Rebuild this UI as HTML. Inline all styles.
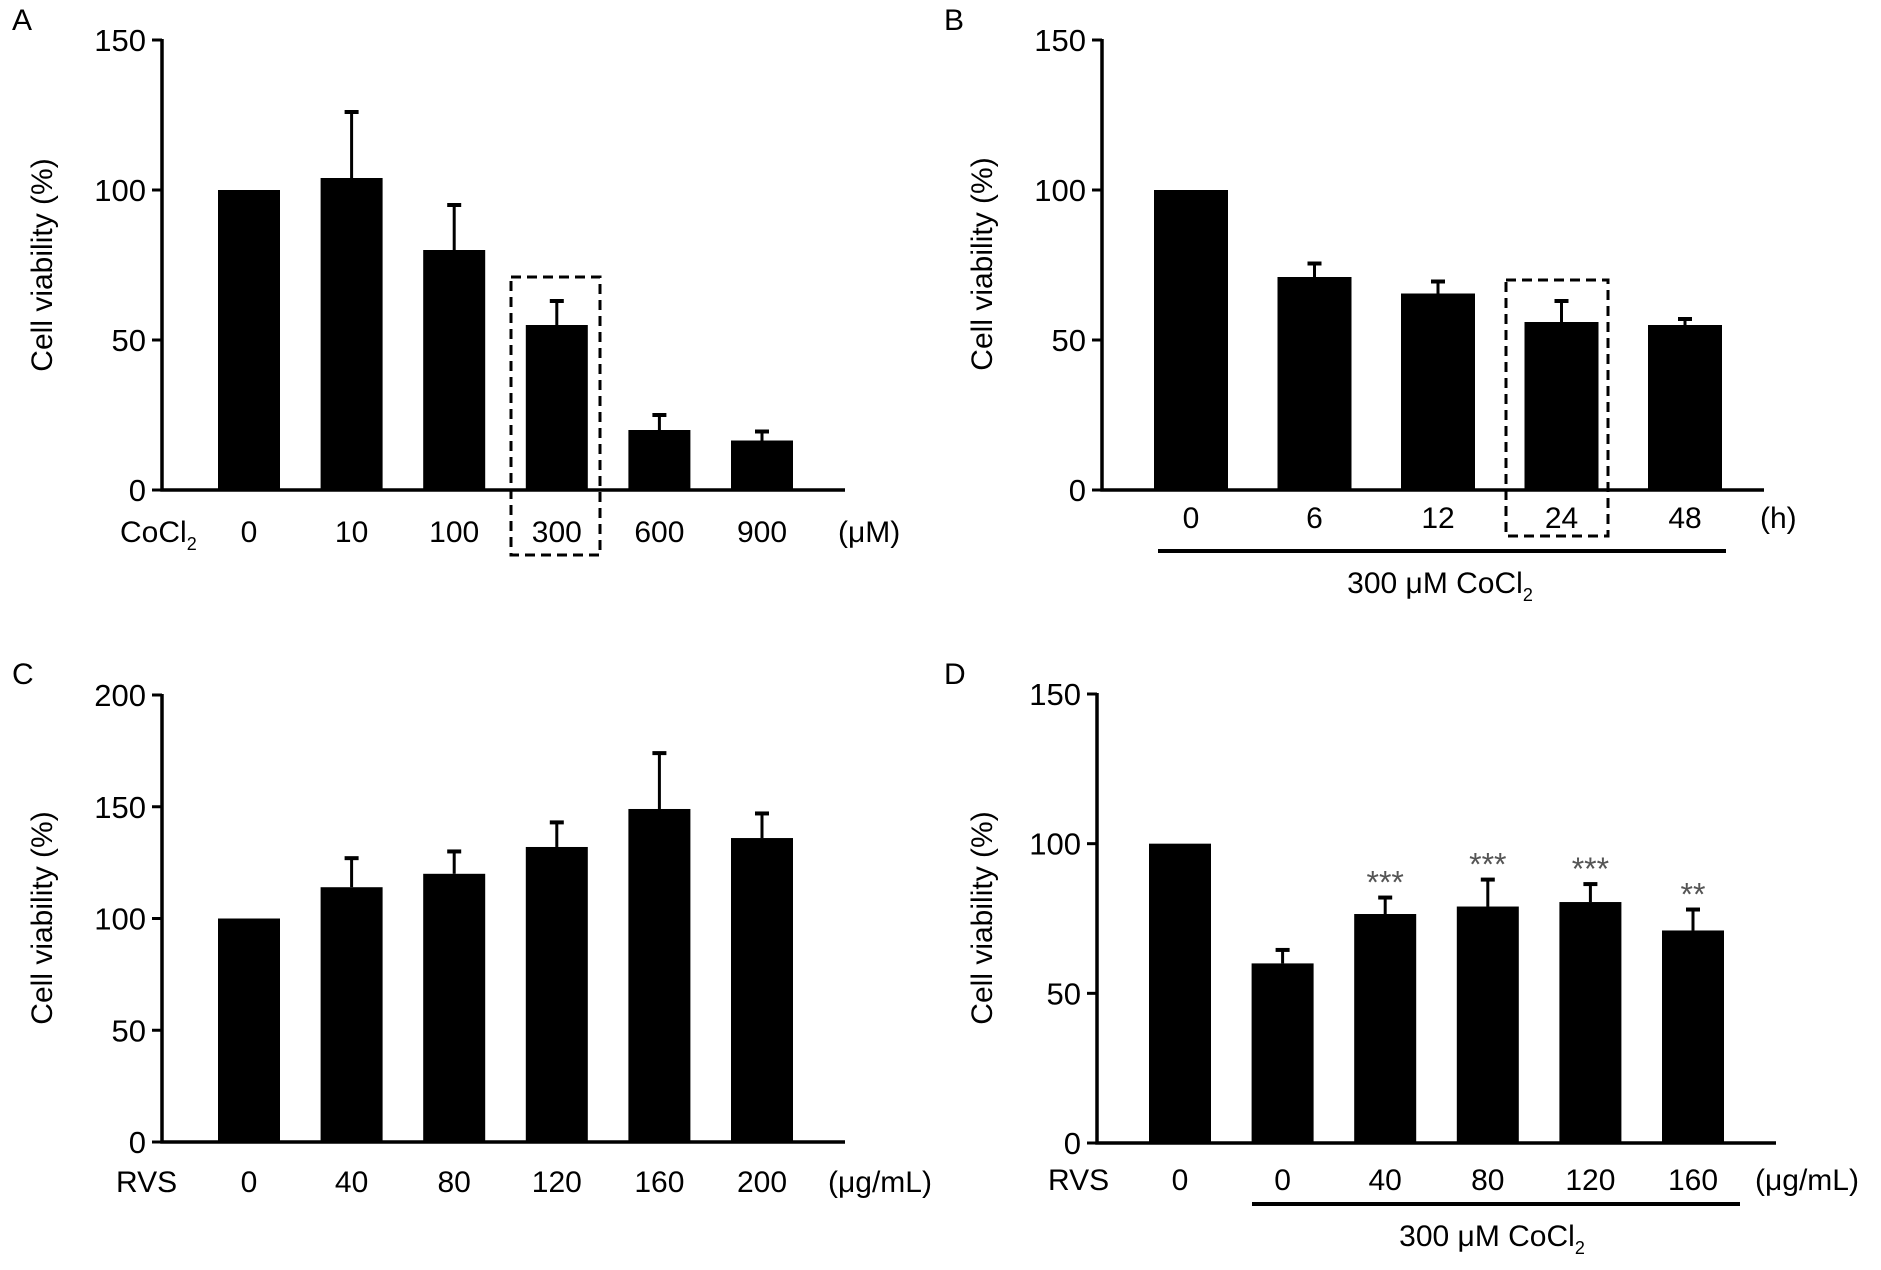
<!DOCTYPE html>
<html><head><meta charset="utf-8"><style>
html,body{margin:0;padding:0;background:#fff;}
svg{display:block;font-family:"Liberation Sans",Arial,sans-serif;}
</style></head><body>
<svg id="fig" width="1881" height="1270" viewBox="0 0 1881 1270" xmlns="http://www.w3.org/2000/svg"></svg>
<script>
const catA=["0","10","100","300","600","900"];
const valA=[100,104,80,55,20,16.5];
const errA=[100,126,95,63,25,19.5];
const catB=["0","6","12","24","48"];
const valB=[100,71,65.5,56,55];
const errB=[100,75.5,69.5,63,57];
const catC=["0","40","80","120","160","200"];
const valC=[100,114,120,132,149,136];
const errC=[100,127,130,143,174,147];
const catD=["0","0","40","80","120","160"];
const valD=[100,60,76.5,79,80.5,71];
const errD=[100,64.5,82,88,86.5,78];
const sigD=["","","***","***","***","**"];
const ticks150=[0,50,100,150];
const ticks200=[0,50,100,150,200];

const NS="http://www.w3.org/2000/svg";
const svg=document.getElementById('fig');
function mk(tag,attrs,parent,text){const e=document.createElementNS(NS,tag);for(const k in attrs)e.setAttribute(k,attrs[k]);if(text!==undefined)e.textContent=text;(parent||svg).appendChild(e);return e;}

function panel(p){
  const g=mk('g',{});
  
  
  const ymax=p.ticks[p.ticks.length-1];
  const Y=v=>p.y0-(v/ymax)*(p.y0-p.yTop);
  const X=i=>p.c0+i*p.step;
  const L=mk('text',{x:p.lx,y:p.ly,'font-size':30},g,p.id);
  
  
  p.vals.forEach((v,i)=>{
    const r=mk('rect',{x:X(i)-p.bw/2,y:Y(v),width:p.bw,height:p.y0-Y(v),fill:'#000'},g);
    
    
    if(p.errs[i]>v){
      const eg=mk('g',{stroke:'#000','stroke-width':3},g);
      
      
      mk('line',{x1:X(i),x2:X(i),y1:Y(v),y2:Y(p.errs[i])},eg);
      mk('line',{x1:X(i)-7,x2:X(i)+7,y1:Y(p.errs[i]),y2:Y(p.errs[i]),'stroke-width':4},eg);
    }
    if(p.sig&&p.sig[i]){
      const s=mk('text',{x:X(i),y:Y(p.errs[i])-4,'font-size':32,fill:'#555','text-anchor':'middle'},g,p.sig[i]);
      
      
    }
    const t=mk('text',{x:X(i),y:p.labY,'font-size':30,'text-anchor':'middle'},g,p.cats[i]);
    
    
  });
  const ax=mk('path',{d:`M${p.ax} ${p.yTop-1}V${p.y0}H${p.xEnd}`,stroke:'#000','stroke-width':3.5,fill:'none'},g);
  
  
  p.ticks.forEach(v=>{
    mk('line',{x1:p.ax-10,x2:p.ax,y1:Y(v),y2:Y(v),stroke:'#000','stroke-width':3},g);
    const t=mk('text',{x:p.ax-16,y:Y(v)+11,'font-size':31,'text-anchor':'end'},g,String(v));
    
    
  });
  const yt=mk('text',{x:0,y:0,'font-size':30,'text-anchor':'middle',transform:`translate(${p.ytx},${p.yty}) rotate(-90)`},g,'Cell viability (%)');
  
  
  return {g,X,Y};
}

let A=panel({id:'A',cats:catA,vals:valA,errs:errA,ticks:ticks150,ax:162,y0:490,yTop:40,xEnd:845,c0:249,step:102.6,bw:62,labY:542,lx:12,ly:30,ytx:52,yty:265});
let t=mk('text',{x:120,y:542,'font-size':30},A.g);t.innerHTML='CoCl<tspan font-size="18" dy="8">2</tspan>';


t=mk('text',{x:838,y:542,'font-size':30},A.g,'(μM)');


let b=mk('rect',{x:511,y:277,width:89,height:278,fill:'none',stroke:'#000','stroke-width':3,'stroke-dasharray':'10 6'},A.g);



let B=panel({id:'B',cats:catB,vals:valB,errs:errB,ticks:ticks150,ax:1102,y0:490,yTop:40,xEnd:1764,c0:1191,step:123.5,bw:74,labY:528,lx:944,ly:30,ytx:992,yty:264});
t=mk('text',{x:1760,y:528,'font-size':30},B.g,'(h)');


b=mk('rect',{x:1506,y:280,width:102,height:256,fill:'none',stroke:'#000','stroke-width':3,'stroke-dasharray':'10 6'},B.g);


b=mk('line',{x1:1158,x2:1726,y1:551,y2:551,stroke:'#000','stroke-width':4},B.g);


t=mk('text',{x:1440,y:593,'font-size':30,'text-anchor':'middle'},B.g);t.innerHTML='300 μM CoCl<tspan font-size="18" dy="8">2</tspan>';



let C=panel({id:'C',cats:catC,vals:valC,errs:errC,ticks:ticks200,ax:162,y0:1142,yTop:695,xEnd:845,c0:249,step:102.6,bw:62,labY:1192,lx:12,ly:684,ytx:52,yty:918});
t=mk('text',{x:116,y:1192,'font-size':30},C.g,'RVS');


t=mk('text',{x:828,y:1192,'font-size':30},C.g,'(μg/mL)');



let D=panel({id:'D',cats:catD,vals:valD,errs:errD,sig:sigD,ticks:ticks150,ax:1097,y0:1143,yTop:694,xEnd:1776,c0:1180,step:102.6,bw:62,labY:1190,lx:944,ly:684,ytx:992,yty:918});
t=mk('text',{x:1048,y:1190,'font-size':30},D.g,'RVS');


t=mk('text',{x:1755,y:1190,'font-size':30},D.g,'(μg/mL)');


b=mk('line',{x1:1252,x2:1740,y1:1204,y2:1204,stroke:'#000','stroke-width':4},D.g);


t=mk('text',{x:1492,y:1246,'font-size':30,'text-anchor':'middle'},D.g);t.innerHTML='300 μM CoCl<tspan font-size="18" dy="8">2</tspan>';


</script>
</body></html>
